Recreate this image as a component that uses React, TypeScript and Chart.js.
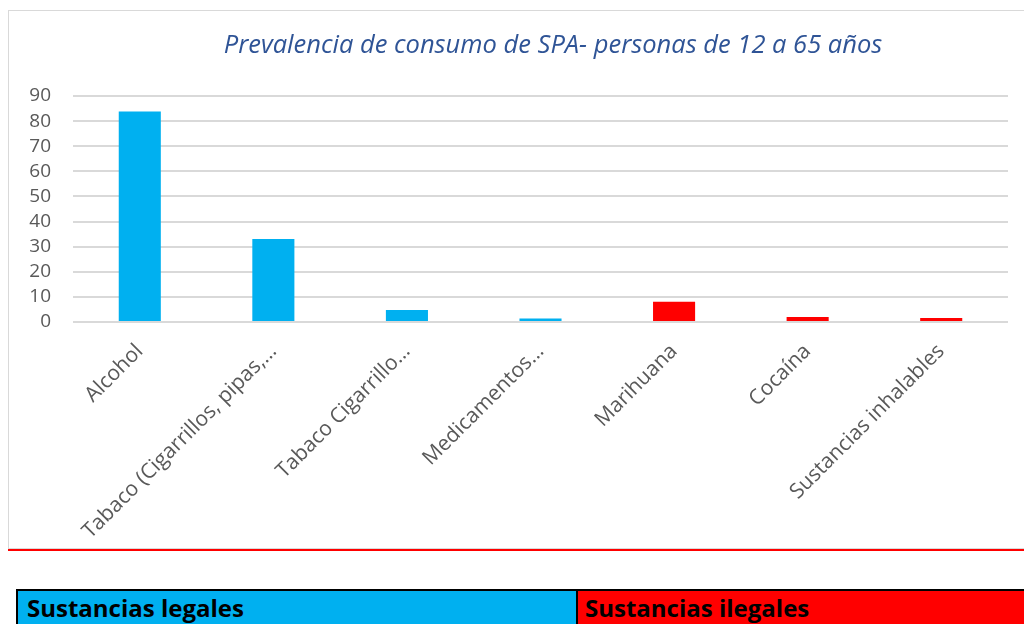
import React, { useEffect, useRef } from "react";
import { Chart, registerables } from "chart.js";

Chart.register(...registerables);

const titleText = "Prevalencia de consumo de SPA- personas de 12 a 65 años";
const categories = [
  "Alcohol",
  "Tabaco (Cigarrillos, pipas,…",
  "Tabaco Cigarrillo…",
  "Medicamentos…",
  "Marihuana",
  "Cocaína",
  "Sustancias inhalables",
];
const values = [83.8, 33.1, 4.8, 1.4, 8.1, 2.0, 1.6];
const legalFlags = [true, true, true, true, false, false, false];
const yTicks = [0, 10, 20, 30, 40, 50, 60, 70, 80, 90];
const legendLabels = ["Sustancias legales", "Sustancias ilegales"];

const BLUE = "#00B0F0";
const RED = "#FF0000";

export default function App() {
  const ref = useRef<HTMLCanvasElement | null>(null);

  useEffect(() => {
    document.documentElement.style.overflow = "hidden";
    document.body.style.overflow = "hidden";
    const ctx = ref.current;
    if (!ctx) return;
    const chart = new Chart(ctx, {
      type: "bar",
      data: {
        labels: categories,
        datasets: [
          {
            data: values,
            backgroundColor: legalFlags.map((l) => (l ? BLUE : RED)),
            categoryPercentage: 1,
            barPercentage: 0.315,
          },
        ],
      },
      options: {
        animation: false,
        responsive: false,
        devicePixelRatio: 1,
        layout: { padding: { left: 0, right: 16, top: 86, bottom: 0 } },
        plugins: {
          legend: { display: false },
          tooltip: { enabled: false },
          title: { display: false },
        },
        scales: {
          x: {
            grid: { display: false },
            border: { display: false },
            ticks: {
              autoSkip: false,
              maxRotation: 45,
              minRotation: 45,
              color: "#595959",
              font: { family: "Open Sans", size: 21 },
              padding: 9,
            },
            afterFit: (scale: any) => {
              scale.height = 226;
            },
          },
          y: {
            min: 0,
            max: 90,
            afterBuildTicks: (scale: any) => {
              scale.ticks = yTicks.map((v) => ({ value: v }));
            },
            grid: { color: "#D9D9D9", lineWidth: 2, drawTicks: false },
            border: { display: false },
            ticks: {
              autoSkip: false,
              color: "#595959",
              font: { family: "Open Sans", size: 19 },
              padding: 22,
            },
            afterFit: (scale: any) => {
              scale.width = 65;
            },
          },
        },
      },
    });
    return () => chart.destroy();
  }, []);

  return (
    <div style={{ position: "fixed", left: 8, top: 8, width: 1040, height: 640 }}>
      <style>{"html,body{overflow:hidden;}"}</style>
      <div
        style={{
          position: "absolute",
          left: 0,
          top: 2,
          width: 1030,
          height: 539,
          border: "1px solid #D9D9D9",
          boxSizing: "border-box",
          background: "#fff",
        }}
      />
      <canvas
        ref={ref}
        width={1016}
        height={538}
        style={{ position: "absolute", left: 0, top: 2, width: 1016, height: 538 }}
      />
      <div
        style={{
          position: "absolute",
          left: 345,
          top: 20,
          width: 400,
          whiteSpace: "nowrap",
          display: "flex",
          justifyContent: "center",
        }}
      >
        <span
          style={{
            fontFamily: "Open Sans",
            fontStyle: "italic",
            fontSize: 25.5,
            lineHeight: "30px",
            color: "#2F5496",
          }}
        >
          {titleText}
        </span>
      </div>
      <div
        style={{
          position: "absolute",
          left: 0,
          top: 541,
          width: 1030,
          height: 2,
          background: RED,
        }}
      />
      <div
        style={{
          position: "absolute",
          left: 8,
          top: 581,
          width: 1030,
          height: 40,
          display: "flex",
          border: "2px solid #000",
          boxSizing: "border-box",
          fontFamily: "Open Sans",
          fontWeight: "bold",
          fontSize: 24,
          lineHeight: "28px",
          color: "#000",
          whiteSpace: "nowrap",
        }}
      >
        <div
          style={{
            width: 560,
            background: BLUE,
            borderRight: "2px solid #000",
            paddingLeft: 9,
            paddingTop: 3,
            boxSizing: "border-box",
          }}
        >
          {legendLabels[0]}
        </div>
        <div style={{ flex: 1, background: RED, paddingLeft: 7, paddingTop: 3, boxSizing: "border-box" }}>
          {legendLabels[1]}
        </div>
      </div>
    </div>
  );
}
